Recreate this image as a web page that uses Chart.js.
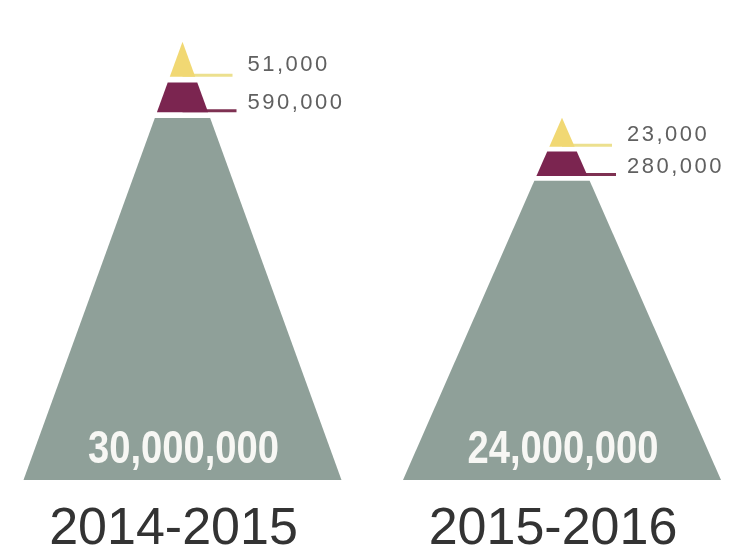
<!DOCTYPE html>
<html>
<head>
<meta charset="utf-8">
<script src="https://cdn.jsdelivr.net/npm/chart.js@4.4.1/dist/chart.umd.min.js"></script>
<style>
  html, body { margin: 0; padding: 0; background: #ffffff; }
  #wrap { width: 740px; height: 553px; }
</style>
</head>
<body>
<div id="wrap"><canvas id="c" width="740" height="553"></canvas></div>
<script>
// ---- data ----
const years = ['2014-2015', '2015-2016'];
const baseValues = [30000000, 24000000];   // grey base tier
const middleValues = [590000, 280000];     // maroon tier
const topValues = [51000, 23000];          // yellow tip

// ---- styles ----
const COLORS = { base: '#8fa099', middle: '#7b2550', top: '#f1d873', topLine: '#ece08e', midLine: '#7e3152', label: '#606060', year: '#333333' };
const TIERS = { top: [0, 0.08], middle: [0.093, 0.161], base: [0.174, 1] };

const fmt = v => v.toLocaleString('en-US');

const pyramidPlugin = {
  id: 'pyramids',
  afterDatasetsDraw(chart) {
    const ctx = chart.ctx;
    const meta = chart.getDatasetMeta(0);
    const bottom = chart.chartArea.bottom;
    meta.data.forEach((el, i) => {
      const cx = el.x, apex = el.y, half = el.width / 2;
      const h = bottom - apex;
      const yAt = f => apex + h * f;
      const wAt = f => half * f;
      const trap = (f0, f1, color) => {
        ctx.beginPath();
        ctx.moveTo(cx - wAt(f0), yAt(f0));
        ctx.lineTo(cx + wAt(f0), yAt(f0));
        ctx.lineTo(cx + wAt(f1), yAt(f1));
        ctx.lineTo(cx - wAt(f1), yAt(f1));
        ctx.closePath();
        ctx.fillStyle = color;
        ctx.fill();
      };
      ctx.save();
      // leader lines
      const topBottom = yAt(TIERS.top[1]);
      const midBottom = yAt(TIERS.middle[1]);
      ctx.lineWidth = 3;
      ctx.strokeStyle = COLORS.topLine;
      ctx.beginPath(); ctx.moveTo(cx, topBottom - 1.5); ctx.lineTo(cx + 50, topBottom - 1.5); ctx.stroke();
      ctx.strokeStyle = COLORS.midLine;
      ctx.beginPath(); ctx.moveTo(cx, midBottom - 1.5); ctx.lineTo(cx + 54, midBottom - 1.5); ctx.stroke();
      // tiers
      trap(TIERS.top[0], TIERS.top[1], COLORS.top);
      trap(TIERS.middle[0], TIERS.middle[1], COLORS.middle);
      trap(TIERS.base[0], TIERS.base[1], COLORS.base);
      // small value labels
      ctx.fillStyle = COLORS.label;
      ctx.font = '22px "Liberation Sans", Arial, sans-serif';
      if ('letterSpacing' in ctx) ctx.letterSpacing = '2.5px';
      ctx.textAlign = 'left';
      ctx.textBaseline = 'middle';
      ctx.fillText(fmt(topValues[i]), cx + 65, topBottom - 12);
      ctx.fillText(fmt(middleValues[i]), cx + 65, midBottom - 9);
      if ('letterSpacing' in ctx) ctx.letterSpacing = '0px';
      // big base label
      ctx.save();
      ctx.font = 'bold 46px "Liberation Sans", Arial, sans-serif';
      ctx.fillStyle = '#f7f7f4';
      ctx.textAlign = 'center';
      ctx.textBaseline = 'middle';
      ctx.translate(cx + 1, bottom - 30);
      ctx.scale(0.83, 1);
      ctx.fillText(fmt(baseValues[i]), 0, 0);
      ctx.restore();
      // year label
      ctx.font = '52px "Liberation Sans", Arial, sans-serif';
      ctx.fillStyle = COLORS.year;
      ctx.textAlign = 'center';
      ctx.textBaseline = 'middle';
      ctx.fillText(years[i], cx - 9, bottom + 50);
      ctx.restore();
    });
  }
};

new Chart(document.getElementById('c'), {
  type: 'bar',
  data: {
    labels: years,
    datasets: [{
      label: 'Base',
      data: baseValues,
      backgroundColor: 'rgba(0,0,0,0)',
      borderWidth: 0,
      barThickness: 318
    }]
  },
  options: {
    responsive: false,
    animation: false,
    layout: { padding: { left: 182.5, right: 178, top: 10, bottom: 73 } },
    plugins: { legend: { display: false }, tooltip: { enabled: false } },
    scales: {
      x: { display: false, offset: false, grid: { display: false } },
      y: { display: false, min: -4600000, max: 32500000, grid: { display: false } }
    }
  },
  plugins: [pyramidPlugin]
});
</script>
</body>
</html>
